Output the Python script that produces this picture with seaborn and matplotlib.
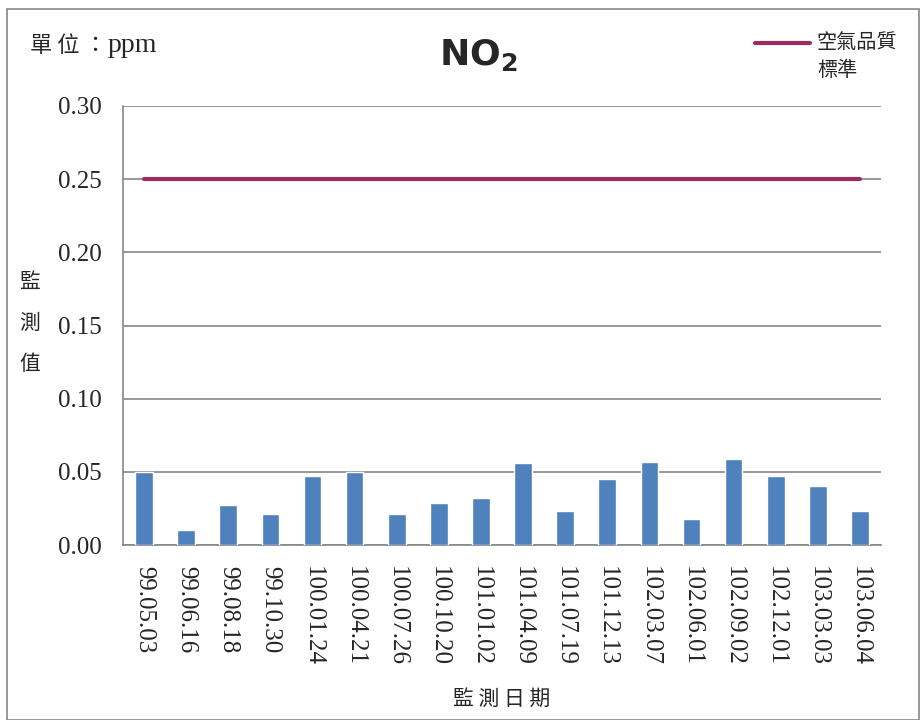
import numpy as np
import seaborn as sns
import matplotlib.pyplot as plt
from matplotlib.lines import Line2D
from matplotlib.patches import Rectangle

# 監測日期與 NO2 監測值 (ppm)
dates = ['99.05.03', '99.06.16', '99.08.18', '99.10.30', '100.01.24', '100.04.21',
         '100.07.26', '100.10.20', '101.01.02', '101.04.09', '101.07.19', '101.12.13',
         '102.03.07', '102.06.01', '102.09.02', '102.12.01', '103.03.03', '103.06.04']
no2 = [0.050, 0.010, 0.027, 0.021, 0.047, 0.050,
       0.021, 0.029, 0.032, 0.056, 0.023, 0.045,
       0.057, 0.018, 0.059, 0.047, 0.040, 0.023]
standard = [0.25] * len(dates)
yticks = [0.00, 0.05, 0.10, 0.15, 0.20, 0.25, 0.30]

cjk = ['Noto Sans CJK TC', 'DejaVu Sans']
serif = 'Liberation Serif'
bar_color = '#4F81BD'
line_color = '#9B2D61'
grid_color = '#868686'

sns.set_style('white')
plt.rcParams['font.family'] = cjk
plt.rcParams['mathtext.fontset'] = 'dejavusans'

fig = plt.figure(figsize=(9.22, 7.2), dpi=100)
ax = fig.add_axes([123 / 922, 1 - 545 / 720, (881 - 123) / 922, (545 - 106) / 720])

sns.barplot(x=dates, y=no2, color=bar_color, width=0.42, saturation=1, ax=ax, zorder=3)
sns.lineplot(x=np.arange(len(dates)), y=standard, color=line_color, linewidth=3,
             ax=ax, zorder=4)

ax.set_xlim(-0.5, len(dates) - 0.5)
ax.set_ylim(0, 0.30)
ax.set_yticks(yticks)
ax.set_yticklabels([f'{v:.2f}' for v in yticks], fontfamily=serif, fontsize=18)
ax.set_xticks(range(len(dates)))
ax.set_xticklabels(dates, rotation=270, fontfamily=serif, fontsize=18)
ax.tick_params(axis='x', length=0, pad=15)
ax.tick_params(axis='y', length=0, pad=15)
ax.yaxis.grid(True, color=grid_color, linewidth=1.2, zorder=0)
ax.set_axisbelow(True)
for side in ['top', 'right']:
    ax.spines[side].set_visible(False)
for side in ['left', 'bottom']:
    ax.spines[side].set_color(grid_color)
    ax.spines[side].set_linewidth(1.2)

ax.set_xlabel('監 測 日 期', fontsize=15, labelpad=16)
ax.set_ylabel('')
fig.text(30 / 922, 1 - 323 / 720, '監\n\n測\n\n值', fontsize=15, ha='center', va='center',
         linespacing=0.9)

# 單位
fig.text(30 / 922, 1 - 45 / 720, '單 位 ：', fontsize=16, ha='left', va='center')
fig.text(108 / 922, 1 - 45 / 720, 'ppm', fontsize=20, ha='left', va='center',
         fontfamily=serif)
fig.text(478 / 922, 1 - 55 / 720, r'$\mathbf{NO_2}$', fontsize=26, ha='center', va='center')

# 圖例
fig.add_artist(Line2D([755 / 922, 810 / 922], [1 - 43 / 720, 1 - 43 / 720],
                      transform=fig.transFigure, color=line_color, linewidth=3))
fig.text(817 / 922, 1 - 43 / 720, '空氣品質', fontsize=14.5, ha='left', va='center')
fig.text(817 / 922, 1 - 70 / 720, '標準', fontsize=14.5, ha='left', va='center')

fig.patches.append(Rectangle((7 / 922, 0), 912 / 922, 1 - 9 / 720, transform=fig.transFigure,
                             fill=False, edgecolor=grid_color, linewidth=1.2))

fig.savefig('out.png', dpi=100)
